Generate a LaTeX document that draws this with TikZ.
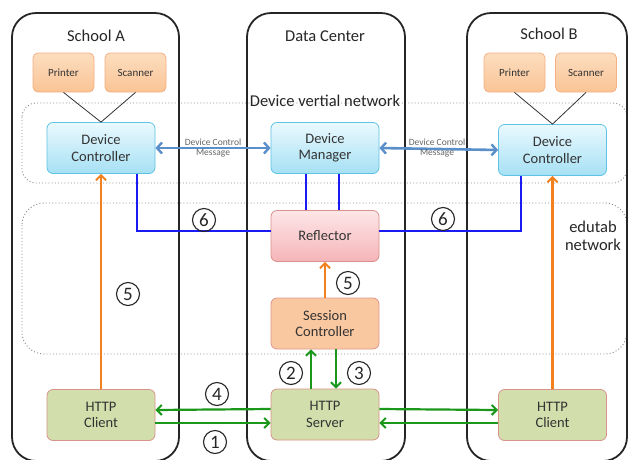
\documentclass[tikz,border=0pt]{standalone}
\usepackage{fontspec}
\setmainfont{Carlito}
\usetikzlibrary{arrows.meta}
\definecolor{txt}{HTML}{333333}
\definecolor{orgB}{HTML}{F4B183}
\definecolor{orgT}{HTML}{FCDDBF}
\definecolor{orgBot}{HTML}{FAC495}
\definecolor{cyB}{HTML}{5EC3E4}
\definecolor{cyT}{HTML}{EAF9FE}
\definecolor{cyBot}{HTML}{A6E0F4}
\definecolor{pkB}{HTML}{D9908E}
\definecolor{pkT}{HTML}{FDE6E7}
\definecolor{pkBot}{HTML}{F6B5B8}
\definecolor{scF}{HTML}{FAC8A0}
\definecolor{scB}{HTML}{DE958A}
\definecolor{grF}{HTML}{D2DEAB}
\definecolor{grB}{HTML}{D9938A}
\definecolor{blu}{HTML}{1A1AF5}
\definecolor{org}{HTML}{F3801F}
\definecolor{grn}{HTML}{1B981B}
\definecolor{stb}{HTML}{5B8FC9}
\tikzset{
  box/.style={rounded corners=6pt, minimum width=108pt, minimum height=51pt, align=center,
    font=\fontsize{14.5}{16.5}\selectfont, text=txt, line width=0.8pt},
  dev/.style={box, draw=cyB, top color=cyT, bottom color=cyBot},
  refbox/.style={box, draw=pkB, top color=pkT, bottom color=pkBot},
  sessbox/.style={box, draw=scB, fill=scF},
  httpbox/.style={box, draw=grB, fill=grF},
  periph/.style={rounded corners=5pt, minimum width=61pt, minimum height=39pt, draw=orgB,
    top color=orgT, bottom color=orgBot, line width=0.8pt, font=\fontsize{11}{13}\selectfont, text=txt},
  col/.style={draw=black!85, line width=1.8pt, rounded corners=24pt},
  net/.style={draw=black!45, line width=0.9pt, dash pattern=on 1pt off 2.2pt},
  title/.style={font=\fontsize{16.5}{19}\selectfont, text=black!85},
  num/.style={circle, draw=black!85, line width=1.1pt, minimum size=23pt, inner sep=0pt,
    font=\fontsize{19}{19}\selectfont, text=black!85},
  tip/.style={-{Straight Barb[length=5pt,width=10pt,line width=2pt]}},
  bl/.style={draw=blu, line width=2.2pt},
  og/.style={draw=org, line width=2.2pt, tip},
  gr/.style={draw=grn, line width=2.2pt, tip},
  dcm/.style={draw=stb, line width=2.6pt, {Straight Barb[length=5pt,width=11pt,line width=2.4pt]}-{Straight Barb[length=5pt,width=11pt,line width=2.4pt]}},
  dcmlab/.style={font=\fontsize{9.5}{10}\selectfont, text=black!60, align=center},
}
\begin{document}
\begin{tikzpicture}[x=1pt,y=-1pt]
\useasboundingbox (0,0) rectangle (630,459);
\clip (0,0) rectangle (630,459);
\fill[white] (0,0) rectangle (630,459);
% network areas
\draw[net, rounded corners=14pt] (22,103) rectangle (627,183);
\draw[net, rounded corners=22pt] (22,203) rectangle (627,354);
% columns
\draw[col] (12,13) rectangle (179,461);
\draw[col] (247,13) rectangle (405,461);
\draw[col] (467,13) rectangle (627,461);
% titles
\node[title] (tA) at (96,36) {School A};
\node[title] (tD) at (325,36) {Data Center};
\node[title] (tB) at (549,34) {School B};
\node[font=\fontsize{16.5}{19}\selectfont, text=black!85] (ldvn) at (325,101) {Device vertial network};
\node[font=\fontsize{16.5}{18}\selectfont, text=black!85, align=center] (ledu) at (593,236) {edutab\\network};
% peripherals
\node[periph] (prA) at (63.5,72.5) {Printer};
\node[periph] (scA) at (135.5,72.5) {Scanner};
\node[periph] (prB) at (514.5,72.5) {Printer};
\node[periph] (scB) at (586,72.5) {Scanner};
% main boxes
\node[dev] (dcA) at (101,148) {Device\\Controller};
\node[dev] (dm) at (325,148) {Device\\Manager};
\node[dev] (dcB) at (552.5,150) {Device\\Controller};
\node[refbox] (refl) at (325,236) {Reflector};
\node[sessbox] (sc) at (325,323.5) {Session\\Controller};
\node[httpbox] (srv) at (325,414.5) {HTTP\\Server};
\node[httpbox] (clA) at (101,415) {HTTP\\Client};
\node[httpbox] (clB) at (552.5,415) {HTTP\\Client};
% peripheral links
\draw[black!80, line width=0.8pt] (prA.south) -- (dcA.north) -- (scA.south);
\draw[black!80, line width=0.8pt] (prB.south) -- (dcB.north) -- (scB.south);
% device control messages
\draw[dcm] (dcA.east) -- (dm.west);
\node[dcmlab] (m1) at (213,148) {Device Control\\Message};
\draw[dcm] (dm.east) -- (dcB.west);
\node[dcmlab] (m2) at (437,148) {Device Control\\Message};
% blue lines
\draw[bl] ([xshift=-19pt]dm.south) -- ([xshift=-19pt]refl.north);
\draw[bl] ([xshift=14pt]dm.south) -- ([xshift=14pt]refl.north);
\draw[bl] ([xshift=36pt]dcA.south) |- ([yshift=5pt]refl.west);
\draw[bl] ([xshift=-31.5pt]dcB.south) |- ([yshift=5pt]refl.east);
% orange arrows
\draw[og] (clA.north) -- (dcA.south);
\draw[og] (clB.north) -- (dcB.south);
\draw[og] (sc.north) -- (refl.south);
% green arrows
\draw[gr] ([yshift=5.5pt]srv.west) -- ([yshift=5pt]clA.east);
\draw[gr] ([yshift=-8pt]clA.east) -- ([yshift=-8.5pt]srv.west);
\draw[gr] ([yshift=5.5pt]srv.east) -- ([yshift=5pt]clB.west);
\draw[gr] ([yshift=-8pt]clB.west) -- ([yshift=-8.5pt]srv.east);
\draw[gr] ([xshift=-14pt]srv.north) -- ([xshift=-14pt]sc.south);
\draw[gr] ([xshift=11pt]sc.south) -- ([xshift=11pt]srv.north);
% numbers
\node[num] (n6a) at (204,220) {6};
\node[num] (n6b) at (443,219) {6};
\node[num] (n5a) at (128,294) {5};
\node[num] (n5b) at (348,283) {5};
\node[num] (n2) at (291,373) {2};
\node[num] (n3) at (359,373) {3};
\node[num] (n4) at (217,394) {4};
\node[num] (n1) at (215,442) {1};
\end{tikzpicture}
\end{document}
